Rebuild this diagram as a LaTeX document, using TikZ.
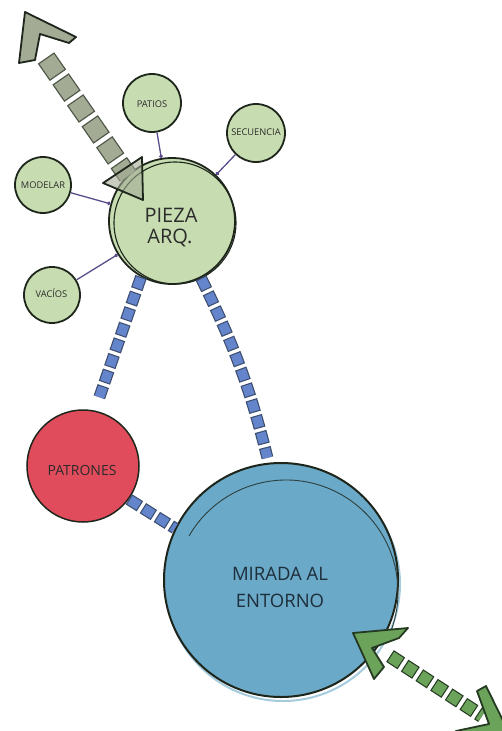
\documentclass[tikz,border=0pt]{standalone}
\usepackage{fontspec}
\setmainfont{Open Sans}
\usetikzlibrary{arrows.meta}
\definecolor{leaf}{HTML}{C7DDB1}
\definecolor{ink}{HTML}{1E261C}
\definecolor{redfill}{HTML}{E14C5C}
\definecolor{bluefill}{HTML}{6AA9C8}
\definecolor{sqblue}{HTML}{6485CB}
\definecolor{sqblueedge}{HTML}{3D4F70}
\definecolor{grayfill}{HTML}{A3AB95}
\definecolor{grayedge}{HTML}{4E5648}
\definecolor{greenfill}{HTML}{6CA35A}
\definecolor{greenedge}{HTML}{243A22}
\definecolor{purple}{HTML}{5B4C8C}
\definecolor{txt}{HTML}{2B2B2B}
\definecolor{txtblue}{HTML}{1E2E3A}
\tikzset{
  bubble/.style={circle, draw=ink, line width=1.8pt, fill=leaf, inner sep=0pt},
  smalltxt/.style={font=\fontsize{9.3}{11}\selectfont, text=txt, anchor=base, inner sep=0pt},
  bigtxt/.style={font=\fontsize{20}{23}\selectfont, text=txt, anchor=base, inner sep=0pt},
  mirtxt/.style={font=\fontsize{18.5}{21}\selectfont, text=txtblue, anchor=base, inner sep=0pt},
  tie/.style={draw=purple, line width=1.3pt, -{Circle[length=3.5pt]}},
  bluesqout/.style={draw=sqblueedge, line width=12pt, dash pattern=on 13pt off 3.5pt},
  bluesqin/.style={draw=sqblue, line width=9.6pt, dash pattern=on 10.6pt off 5.9pt, dash phase=15.3pt},
  graysqout/.style={draw=grayedge, line width=20pt, dash pattern=on 21pt off 4.5pt},
  graysqin/.style={draw=grayfill, line width=17.4pt, dash pattern=on 18.4pt off 7.1pt, dash phase=24.2pt},
  greensqout/.style={draw=greenedge, line width=14pt, dash pattern=on 13.5pt off 4pt},
  greensqin/.style={draw=greenfill, line width=11.6pt, dash pattern=on 11.1pt off 6.4pt, dash phase=16.3pt},
  grayhead/.style={fill=grayfill, draw=ink, line width=1.8pt, line join=round},
  greenhead/.style={fill=greenfill, draw=greenedge, line width=1.8pt, line join=round},
}
\begin{document}
\begin{tikzpicture}[x=1pt, y=-1pt]
\path[use as bounding box] (0,0) rectangle (502,731);
\clip (0,0) rectangle (502,731);

% circles
\node[bubble, minimum size=126pt] (pieza) at (172,221) {};
\draw[ink, line width=1.1pt] (175,223) circle[radius=61pt];
\node[bubble, minimum size=58pt] (patios) at (152,103) {};
\node[bubble, minimum size=58pt] (secuencia) at (256,133) {};
\node[bubble, minimum size=56pt] (modelar) at (43,185) {};
\node[bubble, minimum size=56pt] (vacios) at (52,295) {};
\node[circle, draw=ink, line width=1.5pt, fill=redfill, inner sep=0pt, minimum size=112pt] (patrones) at (83,466) {};
\draw[bluefill!60!white, line width=2pt] (283,584) circle[radius=117pt];
\node[circle, draw=ink, line width=2pt, fill=bluefill, inner sep=0pt, minimum size=234pt] (mirada) at (281,580) {};
\draw[ink!80!bluefill, line width=0.9pt] ([shift={(150:112pt)}]286,592) arc[start angle=150, end angle=-25, radius=112pt];

% texts
\node[smalltxt] (tpatios) at (152,107.5) {PATIOS};
\node[smalltxt] (tsecuencia) at (256,135) {SECUENCIA};
\node[smalltxt] (tmodelar) at (43,188.5) {MODELAR};
\node[smalltxt] (tvacios) at (51.5,297.5) {VACÍOS};
\node[bigtxt] (tpieza1) at (171,222) {PIEZA};
\node[bigtxt] (tpieza2) at (170,243) {ARQ.};
\node[font=\fontsize{14}{16}\selectfont, text=txt, anchor=base, inner sep=0pt] (tpatrones) at (82,475) {PATRONES};
\node[mirtxt] (tmirada1) at (280,580) {MIRADA AL};
\node[mirtxt] (tmirada2) at (280,607) {ENTORNO};

% thin ties
\draw[tie] (patios) -- (pieza);
\draw[tie] (secuencia) -- (pieza);
\draw[tie] (modelar) -- (pieza);
\draw[tie] (vacios) -- (pieza);

% blue square connectors
\draw[bluesqout, shorten >=14pt] (pieza.241) -- (patrones.78);
\draw[bluesqin, shorten >=14pt] (pieza.241) -- (patrones.78);
\draw[bluesqout, shorten >=5pt] (pieza.297) to[bend left=6] (mirada.96);
\draw[bluesqin, shorten >=5pt] (pieza.297) to[bend left=6] (mirada.96);
\draw[bluesqout] (patrones.324) -- (mirada.154);
\draw[bluesqin] (patrones.324) -- (mirada.154);

% gray double arrow
\coordinate (gtop) at (46,58);
\coordinate (gbot) at (128,176);
\draw[graysqout] (gtop) -- (gbot);
\draw[graysqin] (gtop) -- (gbot);
\draw[grayhead] (25,12) -- (76,37) -- (69,43) -- (40,34) -- (35,60) -- (19,63) -- cycle;
\draw[grayhead, fill opacity=0.6] (103,183) -- (142,157) -- (143,200) -- cycle;

% green double arrow
\coordinate (gr1) at (390,656);
\coordinate (gr2) at (482,716);
\draw[greensqout] (gr1) -- (gr2);
\draw[greensqin] (gr1) -- (gr2);
\draw[greenhead] (353,633) -- (408,628) -- (399,638) -- (372,648) -- (384,667) -- (374,679) -- cycle;
\draw[greenhead] (486,686) -- (515,745) -- (450,741) -- (456,731) -- (489,724) -- (477,691) -- cycle;
\end{tikzpicture}
\end{document}
